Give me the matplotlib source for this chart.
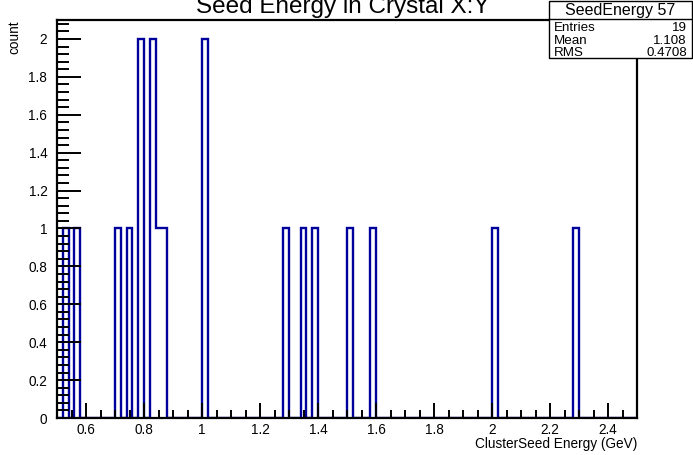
import numpy as np
import matplotlib
matplotlib.use("Agg")
import matplotlib.pyplot as plt
from matplotlib.patches import Rectangle
from matplotlib.ticker import MultipleLocator, FuncFormatter

plt.rcParams['font.family'] = ['Liberation Sans', 'DejaVu Sans']

# ---- data ----
x_min, x_max, n_bins = 0.5, 2.5, 100
filled_bin_low_edges = [0.52, 0.56, 0.70, 0.74, 0.78, 0.82, 0.84, 0.86, 1.00,
                        1.28, 1.34, 1.38, 1.50, 1.58, 2.00, 2.28]
filled_bin_counts = [1, 1, 1, 1, 2, 2, 1, 1, 2,
                     1, 1, 1, 1, 1, 1, 1]
title_text = "Seed Energy in Crystal X:Y"
x_label = "ClusterSeed Energy (GeV)"
y_label = "count"
stats_name = "SeedEnergy 57"
stats_labels = ["Entries", "Mean", "RMS"]
stats_values = ["19", "1.108", "0.4708"]

edges = np.linspace(x_min, x_max, n_bins + 1)
counts = np.zeros(n_bins)
for lo, c in zip(filled_bin_low_edges, filled_bin_counts):
    idx = int(round((lo - x_min) / (x_max - x_min) * n_bins))
    counts[idx] = c

W, H = 693, 455
fig = plt.figure(figsize=(W / 100, H / 100), dpi=100)
L, R, T, B = 57, 637, 20, 418
ax = fig.add_axes([L / W, 1 - B / H, (R - L) / W, (B - T) / H])

ax.stairs(counts, edges, color='#00009c', linewidth=1.7)
ax.set_xlim(x_min, x_max)
ax.set_ylim(0, 2.1)

for s in ax.spines.values():
    s.set_linewidth(1.6)
    s.set_color('black')

fmt = FuncFormatter(lambda v, p: f"{v:g}")
ax.xaxis.set_major_locator(MultipleLocator(0.2))
ax.xaxis.set_minor_locator(MultipleLocator(0.05))
ax.yaxis.set_major_locator(MultipleLocator(0.2))
ax.yaxis.set_minor_locator(MultipleLocator(0.04))
ax.xaxis.set_major_formatter(fmt)
ax.yaxis.set_major_formatter(fmt)
ax.tick_params(axis='x', which='major', direction='in', length=11, width=1.4,
               labelsize=9.8, pad=3.5)
ax.tick_params(axis='x', which='minor', direction='in', length=5.5, width=1.4)
ax.tick_params(axis='y', which='major', direction='in', length=17, width=1.4,
               labelsize=9.8, pad=7)
ax.tick_params(axis='y', which='minor', direction='in', length=8.5, width=1.4)

fig.text(R / W, 1 - 448 / H, x_label, ha='right', va='baseline', fontsize=9.8)
fig.text(14 / W, 1 - T / H, y_label, ha='center', va='top', rotation=90,
         fontsize=9.8)

fig.text(343 / W, 1 - 13 / H, title_text, ha='center', va='baseline',
         fontsize=17.5)

# stats box
bx0, bx1, by0, by1 = 549, 692, 1, 58
fig.patches.append(Rectangle((bx0 / W, 1 - by1 / H), (bx1 - bx0) / W,
                             (by1 - by0) / H, transform=fig.transFigure,
                             facecolor='white', edgecolor='black',
                             linewidth=1.0, zorder=5))
sep = 19
fig.add_artist(plt.Line2D([bx0 / W, bx1 / W], [1 - sep / H, 1 - sep / H],
                          transform=fig.transFigure, color='black',
                          linewidth=1.0, zorder=6))
fig.text((bx0 + bx1) / 2 / W, 1 - 10 / H, stats_name, ha='center',
         va='center', fontsize=11.5, zorder=7)
row_base = [31, 43.5, 56]
for lab, val, yy in zip(stats_labels, stats_values, row_base):
    fig.text((bx0 + 5) / W, 1 - yy / H, lab, ha='left', va='baseline',
             fontsize=9.6, zorder=7)
    fig.text((bx1 - 5) / W, 1 - yy / H, val, ha='right', va='baseline',
             fontsize=9.6, zorder=7)

fig.savefig("out.png", dpi=100)
